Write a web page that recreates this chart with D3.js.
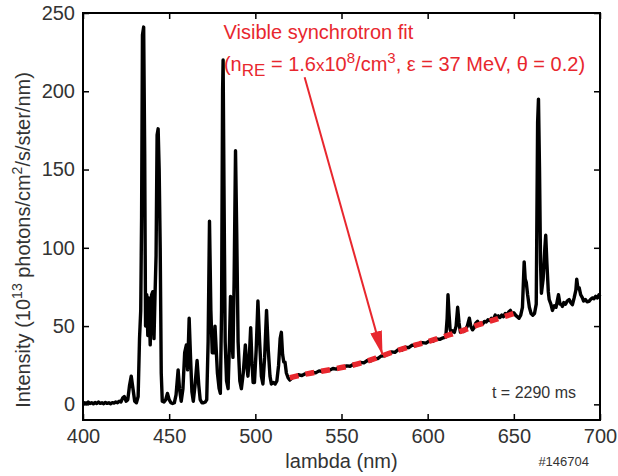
<!DOCTYPE html>
<html>
    <head>
        <meta charset="utf-8">
        <script src="https://cdn.jsdelivr.net/npm/d3@7"></script>
        <style>
            body { margin: 0; background: #fff; }
            text { font-family: "Liberation Sans", Arial, sans-serif; }
        </style>
    </head>
    <body>
        <svg id="chart" width="618" height="476"></svg>
    </body>
    <script>
        // spectrum: wavelength (nm) and intensity
        const lambda = [400,401,402,403,404,405,406,407,408,409,410,411,412,413,414,415,416,417,418,419,
            420,421,422,423,424,425,426,427,428,429,430,431,432,432.8,433.5,434,434.5,435.2,435.8,436.3,
            437,437.6,438.2,439,439.8,440.5,441.2,441.8,442.4,443,443.6,444.2,444.8,445.4,446,447,448,449,450,451,
            452,453,454,455.2,456,457,458,459,460,460.7,461.6,462.4,463.2,464,465,466.2,467.2,468,469,470,
            471,471.8,472.6,473.4,474.2,475,475.9,476.6,477.3,478,479,479.7,480.4,481,481.3,481.8,482.5,483.3,484.2,485,
            485.6,486.3,487,487.7,488.5,489.2,490,491,491.9,493,494.2,495,495.7,496.5,497.3,498,498.7,499.5,500.5,501.5,
            502.5,503.5,504.4,505.4,506.5,507.5,508.5,509.3,510.5,511.5,512.5,513.5,514.4,515.1,515.8,516.5,517.2,518,519,520,
            521,522,523,525,527,529,531,533,535,537,539,541,543,545,547,549,551,553,555,557,
            559,561,563,565,567,569,571,573,575,577,579,581,583,585,587,589,591,593,595,597,
            599,601,603,605,607,609,610.5,611.3,611.8,612.4,613,613.6,614.5,615.5,616.5,617.4,618.2,619,620,621,
            622,623,624.2,625,626,627,628,629,630,631,632,633,634,635,636,637,638,639.2,640,641,
            642,643,644,645,646,647,648,649,650,651,652,653,654,655,656,656.6,657.2,658,659,660,
            661,662,663,663.8,664.3,664.9,665.5,666,667,668,668.5,669.2,670,670.5,671.5,672.4,673.5,674.5,675.2,675.9,
            676.8,677.5,678.2,679,680,681,682.1,683,684,685,686,686.5,687.2,687.9,688.8,689.8,690.5,691.5,692.5,693.6,
            694.5,695.5,696.5,697.5,698.5,699.4,700];
        const intensity = [0,1,0.5,1.5,0.5,1,0.3,1.2,0.5,1.5,0.6,1,0.4,1.2,0.6,1,0.4,1.1,0.8,1.5,
            1,2,1.5,4,5,2,3,12,18,10,2,1,5,42,60,120,236,241,160,50,
            70,44,68,38,70,72,42,70,95,172,176,150,100,20,2,1.5,3,7,3,1,
            0.5,1,6,22,10,2,10,33,38,22,55,30,8,2,12,28,12,3,1,1,
            1.5,3,40,117,60,33,33,50,35,20,10,7,60,200,220,140,40,15,10,40,
            69,45,30,80,162,110,40,15,10,20,38,25,18,30,49,28,14,14,35,66,
            40,18,13,30,60,35,18,13,14,13,15,25,42,46,32,27,27,20,17,15.5,
            16.5,17.5,17.8,18.9,18.4,19.6,19.3,20.5,20.1,21.4,21,22,21.8,22.9,22.5,23.6,23.4,24.6,24.3,25.6,
            25.5,26.8,26.5,28,27.8,29.3,29.2,30.9,31,32.2,33.5,33.2,35,34.6,36.5,36.2,37.8,37.5,38.6,39.4,
            39.1,40.6,40.3,41.8,41.5,42.5,43,55,70,58,48,46,47,46,50,62,52,46,47,46.5,
            48,50,55,50,47.6,49,52,53,50.5,52,51.5,53,52.6,54,53.5,55,54,57,55,56.5,
            55.5,57,56,58,57,59,60,57.5,58.5,57,56,55,57,62,91,80,78,70,62,58,
            57,58,64,180,195,150,90,71,80,100,108,90,72,67,64,60,63,62,66,70,
            64,64,62.6,65,64,66,67,65,63.7,68,73,80,74,74.5,70,68,66,67,65.5,65.8,
            67,68,67.5,69,68,70,69];

        // synchrotron fit
        const fitLambda = [520,530,540,550,560,570,580,590,600,610,620,630,640,650];
        const fitIntensity = [17,19.5,21.5,23.5,26,29.5,33.5,37,40,43.5,47,51,54.5,58];

        const xTicks = [400,450,500,550,600,650,700];
        const yTicks = [0,50,100,150,200,250];

        const spectrum = lambda.map(function(d,i){ return {x:d, y:intensity[i]}; });
        const fit = fitLambda.map(function(d,i){ return {x:d, y:fitIntensity[i]}; });

        const red = "#e8272e";
        const grey = "#333";
        const mLeft = 83, mRight = 600, mTop = 13, mBottom = 420;

        const x_scale = d3.scaleLinear().domain([400,700]).range([mLeft,mRight]);
        const y_scale = d3.scaleLinear().domain([-10,250]).range([mBottom,mTop]);

        const svg = d3.select("#chart");

        // axes, ticks pointing inward
        function style(g){
            g.select(".domain").remove();
            g.selectAll(".tick line").attr("stroke","#000").attr("stroke-width",1.5);
            g.selectAll(".tick text").attr("fill",grey).style("font-size","20px");
        }
        svg.append("g").attr("transform","translate(0,"+mBottom+")")
            .call(d3.axisBottom(x_scale).tickValues(xTicks).tickSize(-6).tickPadding(9))
            .call(style);
        svg.append("g").attr("transform","translate(0,"+mTop+")")
            .call(d3.axisTop(x_scale).tickValues(xTicks).tickSize(-6).tickFormat(""))
            .call(style);
        svg.append("g").attr("transform","translate("+mLeft+",0)")
            .call(d3.axisLeft(y_scale).tickValues(yTicks).tickSize(-6).tickPadding(8))
            .call(style);
        svg.append("g").attr("transform","translate("+mRight+",0)")
            .call(d3.axisRight(y_scale).tickValues(yTicks).tickSize(-6).tickFormat(""))
            .call(style);

        const line = d3.line()
            .x(function(d){ return x_scale(d.x); })
            .y(function(d){ return y_scale(d.y); });

        svg.append("path")
            .datum(spectrum)
            .attr("d",line)
            .attr("fill","none")
            .attr("stroke","#000")
            .attr("stroke-width",3.4)
            .attr("stroke-linejoin","round");

        svg.append("path")
            .datum(fit)
            .attr("d",line.curve(d3.curveMonotoneX))
            .attr("fill","none")
            .attr("stroke",red)
            .attr("stroke-width",5.5)
            .attr("stroke-dasharray","9,7");

        // frame
        svg.append("rect")
            .attr("x",mLeft).attr("y",mTop)
            .attr("width",mRight-mLeft).attr("height",mBottom-mTop)
            .attr("fill","none").attr("stroke","#000").attr("stroke-width",2);

        // arrow
        svg.append("defs").append("marker")
            .attr("id","head")
            .attr("viewBox","0 0 24 12")
            .attr("refX",24).attr("refY",6)
            .attr("markerWidth",24).attr("markerHeight",12)
            .attr("markerUnits","userSpaceOnUse")
            .attr("orient","auto")
            .append("path").attr("d","M0,0L24,6L0,12Z").attr("fill",red);
        svg.append("line")
            .attr("x1",x_scale(528.6)).attr("y1",y_scale(209))
            .attr("x2",x_scale(573.8)).attr("y2",y_scale(31.6))
            .attr("stroke",red).attr("stroke-width",2)
            .attr("marker-end","url(#head)");

        // annotation
        svg.append("text").attr("x",x_scale(481.6)).attr("y",y_scale(233.4))
            .attr("fill",red).style("font-size","20px")
            .text("Visible synchrotron fit");
        const t2 = svg.append("text").attr("x",x_scale(481.8)).attr("y",y_scale(213))
            .attr("fill",red).style("font-size","20px");
        t2.append("tspan").text("(n");
        t2.append("tspan").attr("dy",5).style("font-size","17px").text("RE");
        t2.append("tspan").attr("dy",-5).text(" = 1.6");
        t2.append("tspan").style("font-size","17px").text("x");
        t2.append("tspan").text("10");
        t2.append("tspan").attr("dy",-8).style("font-size","15px").text("8");
        t2.append("tspan").attr("dy",8).text("/cm");
        t2.append("tspan").attr("dy",-8).style("font-size","15px").text("3");
        t2.append("tspan").attr("dy",8).text(", \u03b5 = 37 MeV, \u03b8 = 0.2)");

        svg.append("text").attr("x",576).attr("y",398)
            .attr("text-anchor","end").attr("fill",grey).style("font-size","16px")
            .text("t = 2290 ms");
        svg.append("text").attr("x",589).attr("y",466)
            .attr("text-anchor","end").attr("fill",grey).style("font-size","13px")
            .text("#146704");

        // axis titles
        svg.append("text").attr("x",(mLeft+mRight)/2).attr("y",468)
            .attr("text-anchor","middle").attr("fill",grey).style("font-size","20px")
            .text("lambda (nm)");
        const yl = svg.append("text")
            .attr("transform","translate(30,240) rotate(-90)")
            .attr("text-anchor","middle").attr("fill",grey).style("font-size","20px");
        yl.append("tspan").text("Intensity (10");
        yl.append("tspan").attr("dy",-8).style("font-size","14px").text("13");
        yl.append("tspan").attr("dy",8).text(" photons/cm");
        yl.append("tspan").attr("dy",-8).style("font-size","14px").text("2");
        yl.append("tspan").attr("dy",8).text("/s/ster/nm)");
    </script>
</html>
